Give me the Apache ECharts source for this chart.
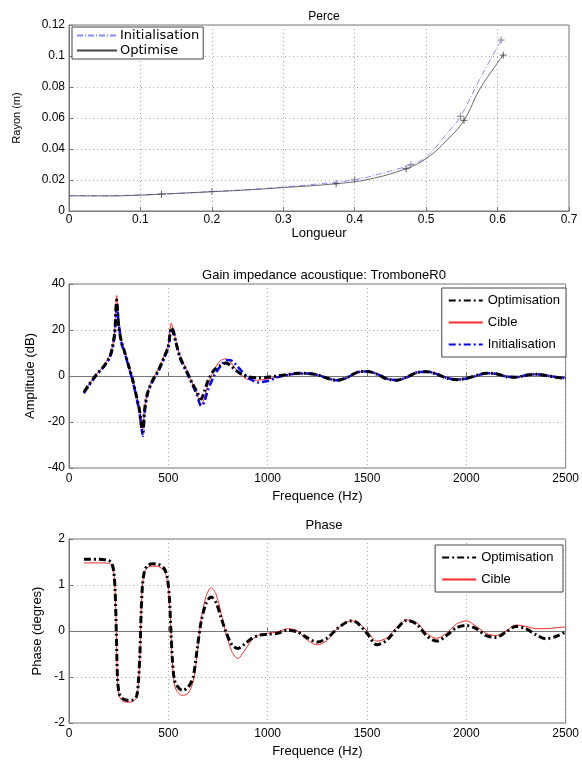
<!DOCTYPE html>
<html>
<head>
<meta charset="utf-8">
<script src="https://cdn.jsdelivr.net/npm/echarts@6/dist/echarts.min.js"></script>
<style>
html,body{margin:0;padding:0;background:#fff;}
#chart{width:582px;height:760px;}
</style>
</head>
<body>
<div id="chart"></div>
<script>
// Perce : rayon en fonction de la longueur
var perceInitX = [0, 0.05, 0.1, 0.15, 0.2, 0.25, 0.3, 0.35, 0.4, 0.44, 0.4786, 0.5, 0.529, 0.548, 0.5756, 0.605];
var perceInitY = [0.0100, 0.0099, 0.0104, 0.0113, 0.0126, 0.0138, 0.0155, 0.0175, 0.0202, 0.0245, 0.0299, 0.0348, 0.0500, 0.0611, 0.0855, 0.1103];
var perceOptX = [0, 0.05, 0.1, 0.1295, 0.2, 0.25, 0.3, 0.374, 0.42, 0.472, 0.5, 0.529, 0.553, 0.5756, 0.608];
var perceOptY = [0.0098, 0.0097, 0.0102, 0.0109, 0.0124, 0.0136, 0.0151, 0.0176, 0.0205, 0.0273, 0.0338, 0.0456, 0.0585, 0.0790, 0.1006];
// noeuds (+)
var nodesInitX = [0.2, 0.4, 0.4786, 0.548, 0.605];
var nodesInitY = [0.0126, 0.0202, 0.0299, 0.0611, 0.1103];
var nodesOptX = [0.1295, 0.374, 0.472, 0.553, 0.608];
var nodesOptY = [0.0109, 0.0176, 0.0273, 0.0585, 0.1006];

// Gain impedance (dB)
var freqAmp = [75, 100, 125, 150, 175, 200, 215, 230, 240, 250, 265, 280, 300, 320, 340, 355, 365, 372, 380, 395, 420, 450, 480, 500, 515, 525, 540, 560, 590, 620, 645, 665, 680, 700, 730, 760, 790, 810, 840, 870, 900, 950, 1000, 1050, 1100, 1150, 1200, 1250, 1300, 1350, 1400, 1450, 1500, 1550, 1600, 1650, 1700, 1750, 1800, 1850, 1900, 1950, 2000, 2050, 2100, 2150, 2200, 2250, 2300, 2350, 2400, 2450, 2500];
var ampOptim = [-7.0, -3.8, -0.8, 1.8, 4.2, 7.5, 11, 19, 33, 22, 14.5, 10.5, 4.5, -1.5, -9, -15, -22, -24, -15, -7.5, -2, 2.5, 8.5, 13, 21, 19, 14, 8, 2.5, -3, -7, -10, -7, -2, 2.5, 4.5, 5.6, 4.8, 2.5, 0.6, -0.3, -0.8, -0.5, 0, 0.6, 1.2, 1.1, 0.5, -1.0, -1.9, -0.6, 1.6, 2.0, 0.8, -1.3, -1.8, -0.5, 1.5, 1.9, 0.8, -0.9, -1.6, -1.0, 0.2, 1.2, 1.0, -0.3, -0.5, 0.3, 0.8, 0.2, -0.5, -1.1];
var ampCible = [-6.8, -3.6, -0.6, 2.0, 4.5, 8, 11.5, 20, 35, 22.5, 14.8, 10.8, 4.8, -1.2, -8.5, -14, -20, -23, -14.5, -7, -1.6, 3, 9, 14, 23, 20, 14.5, 8.5, 3, -3, -8, -12.5, -10, -3.5, 2.5, 6.5, 7.5, 6.2, 3, 0.3, -1.5, -1.8, -1.3, -0.5, 0.5, 1.0, 1.0, 0.6, -0.8, -1.9, -1.0, 1.4, 2.1, 1.0, -1.0, -1.8, -0.8, 1.4, 2.0, 1.0, -0.5, -1.5, -1.2, 0, 1.1, 1.0, 0, -0.4, 0.2, 0.6, 0.3, -0.3, -0.8];
var ampInit = [-7.5, -4.2, -1.2, 1.5, 4, 7.2, 10.5, 18, 31, 23, 14, 10, 4.2, -2, -9.5, -16, -23, -26, -17, -8, -2.5, 2, 8, 12.5, 20.5, 20, 14, 7.5, 2, -3.5, -8.5, -13, -11.5, -6, 0, 4, 6.8, 7.0, 5, 2, -0.5, -2.8, -2.2, -0.5, 0.4, 1.1, 1.1, 0.5, -1.0, -1.9, -0.7, 1.5, 2.0, 0.9, -1.2, -1.8, -0.6, 1.5, 1.9, 0.9, -0.8, -1.6, -1.1, 0.1, 1.2, 1.0, -0.2, -0.5, 0.3, 0.8, 0.2, -0.4, -1.0];

// Phase
var freqPh = [75, 100, 150, 200, 215, 225, 232, 238, 244, 252, 265, 280, 300, 320, 340, 350, 357, 363, 370, 380, 395, 420, 450, 480, 495, 505, 513, 520, 530, 545, 570, 600, 625, 645, 665, 690, 715, 740, 765, 790, 820, 850, 880, 920, 960, 1000, 1050, 1100, 1150, 1200, 1250, 1300, 1350, 1400, 1425, 1450, 1500, 1550, 1600, 1650, 1700, 1750, 1800, 1850, 1900, 1950, 2000, 2050, 2100, 2150, 2200, 2250, 2300, 2350, 2400, 2450, 2500];
var phOptim = [1.56, 1.56, 1.56, 1.53, 1.47, 1.3, 0.9, 0, -1.0, -1.35, -1.45, -1.49, -1.51, -1.50, -1.42, -1.05, -0.5, 0.38, 1.0, 1.3, 1.42, 1.46, 1.45, 1.35, 1.15, 0.74, 0, -0.6, -1.05, -1.2, -1.29, -1.22, -1.0, -0.4, 0.2, 0.6, 0.74, 0.62, 0.3, -0.02, -0.3, -0.38, -0.3, -0.16, -0.09, -0.07, -0.05, 0.02, -0.02, -0.15, -0.24, -0.15, 0.05, 0.2, 0.22, 0.18, -0.05, -0.3, -0.2, 0.05, 0.23, 0.15, -0.1, -0.22, -0.1, 0.07, 0.12, 0.05, -0.1, -0.14, -0.02, 0.1, 0.05, -0.08, -0.17, -0.12, -0.02];
var phCible = [1.48, 1.48, 1.48, 1.47, 1.42, 1.28, 0.9, 0, -1.05, -1.4, -1.5, -1.54, -1.55, -1.53, -1.45, -1.1, -0.5, 0.4, 1.0, 1.28, 1.38, 1.41, 1.40, 1.3, 1.1, 0.7, 0, -0.65, -1.15, -1.32, -1.40, -1.35, -1.1, -0.5, 0.25, 0.75, 0.94, 0.8, 0.4, -0.05, -0.45, -0.6, -0.45, -0.2, -0.08, -0.05, -0.02, 0.05, 0.0, -0.2, -0.3, -0.2, 0.05, 0.2, 0.22, 0.2, 0.0, -0.22, -0.15, 0.08, 0.24, 0.18, -0.05, -0.16, -0.05, 0.15, 0.22, 0.1, -0.05, -0.1, 0.0, 0.13, 0.1, 0.05, 0.05, 0.07, 0.09];

var ff = 'Liberation Sans';
var zip = function(xs, ys){ return xs.map(function(x, i){ return [x, ys[i]]; }); };
var plus = 'path://M0,5L10,5M5,0L5,10';
var plain = function(v){ return String(v); };

var grids = [
    {left: 69, right: 13, top: 25, height: 186},
    {left: 69, right: 13, top: 284, height: 184},
    {left: 69, right: 13, top: 539, height: 184}
];
grids.forEach(function(g){ g.show = true; g.borderColor = '#777'; g.borderWidth = 1; g.containLabel = false; });

function xAx(idx, min, max, interval, name, fs){
    return {
        type: 'value', gridIndex: idx, min: min, max: max, interval: interval,
        name: name, nameLocation: 'middle', nameGap: idx == 0 ? 11 : 22,
        nameTextStyle: {fontFamily: ff, fontSize: 13, color: '#000'},
        axisLine: {show: true, lineStyle: {color: '#777'}},
        axisTick: {inside: true, length: 4, lineStyle: {color: '#777'}},
        axisLabel: {fontFamily: ff, fontSize: fs, color: '#000', margin: idx == 0 ? 3 : 5, formatter: plain},
        splitLine: {show: true, lineStyle: {type: [1, 3], color: '#aaa'}}
    };
}
function yAx(idx, min, max, interval, name, fs, gap){
    return {
        type: 'value', gridIndex: idx, min: min, max: max, interval: interval,
        name: name, nameLocation: 'middle', nameGap: gap, nameRotate: 90,
        nameTextStyle: {fontFamily: ff, fontSize: idx == 0 ? 11 : 13, color: '#000'},
        axisLine: {show: true, lineStyle: {color: '#777'}},
        axisTick: {inside: true, length: 4, lineStyle: {color: '#777'}},
        axisLabel: {fontFamily: ff, fontSize: fs, color: '#000', margin: 4, formatter: plain},
        splitLine: {show: true, lineStyle: {type: [1, 3], color: '#aaa'}}
    };
}

var myChart = echarts.init(document.getElementById('chart'));
var option = {
    backgroundColor: '#fff',
    animation: false,
    title: [
        {text: 'Perce', left: 319, top: 6, textAlign: 'center', textStyle: {fontFamily: ff, fontSize: 12, fontWeight: 'normal', color: '#000'}},
        {text: 'Gain impedance acoustique: TromboneR0', left: 319, top: 264, textAlign: 'center', textStyle: {fontFamily: ff, fontSize: 13, fontWeight: 'normal', color: '#000'}},
        {text: 'Phase', left: 319, top: 514, textAlign: 'center', textStyle: {fontFamily: ff, fontSize: 13, fontWeight: 'normal', color: '#000'}}
    ],
    grid: grids,
    legend: [
        {
            data: ['Initialisation', 'Optimise'],
            orient: 'vertical', left: 72, top: 27,
            itemWidth: 40, itemHeight: 9, itemGap: 2, padding: [2, 4],
            itemStyle: {opacity: 0},
            borderColor: '#444', borderWidth: 1, backgroundColor: '#fff',
            textStyle: {fontFamily: 'DejaVu Sans', fontSize: 13, lineHeight: 11, color: '#000', padding: [0, 0, 0, -2]}
        },
        {
            data: ['Optimisation', 'Cible', 'Initialisation '],
            orient: 'vertical', right: 16, top: 288,
            itemWidth: 34, itemHeight: 10, itemGap: 9, padding: [6, 6],
            itemStyle: {opacity: 0},
            borderColor: '#444', borderWidth: 1, backgroundColor: '#fff',
            textStyle: {fontFamily: ff, fontSize: 13, color: '#000'}
        },
        {
            data: ['Optimisation ', 'Cible '],
            orient: 'vertical', right: 19, top: 545,
            itemWidth: 34, itemHeight: 10, itemGap: 9, padding: [6, 6],
            itemStyle: {opacity: 0},
            borderColor: '#444', borderWidth: 1, backgroundColor: '#fff',
            textStyle: {fontFamily: ff, fontSize: 13, color: '#000'}
        }
    ],
    xAxis: [
        xAx(0, 0, 0.7, 0.1, 'Longueur', 12),
        xAx(1, 0, 2500, 500, 'Frequence (Hz)', 12),
        xAx(2, 0, 2500, 500, 'Frequence (Hz)', 12)
    ],
    yAxis: [
        yAx(0, 0, 0.12, 0.02, 'Rayon (m)', 12, 47),
        yAx(1, -40, 40, 20, 'Amplitude (dB)', 12, 25),
        yAx(2, -2, 2, 1, 'Phase (degres)', 12, 20)
    ],
    series: [
        {name: 'Initialisation', type: 'line', xAxisIndex: 0, yAxisIndex: 0, data: zip(perceInitX, perceInitY), smooth: 0.4, symbol: 'none',
         lineStyle: {color: '#8a8aff', width: 1, type: [6, 2, 1, 2]}, itemStyle: {color: '#8a8aff'}},
        {name: 'Optimise', type: 'line', xAxisIndex: 0, yAxisIndex: 0, data: zip(perceOptX, perceOptY), smooth: 0.4, symbol: 'none',
         lineStyle: {color: '#444', width: 0.8}, itemStyle: {color: '#444'}},
        {type: 'scatter', xAxisIndex: 0, yAxisIndex: 0, data: zip(nodesInitX, nodesInitY), symbol: plus, symbolSize: 7,
         itemStyle: {color: 'none', borderColor: '#666', borderWidth: 1}, silent: true},
        {type: 'scatter', xAxisIndex: 0, yAxisIndex: 0, data: zip(nodesOptX, nodesOptY), symbol: plus, symbolSize: 7,
         itemStyle: {color: 'none', borderColor: '#333', borderWidth: 1}, silent: true},

        {name: 'Cible', type: 'line', xAxisIndex: 1, yAxisIndex: 1, data: zip(freqAmp, ampCible), smooth: 0.3, symbol: 'none', z: 3,
         lineStyle: {color: '#ff2a2a', width: 1}, itemStyle: {color: '#ff2a2a'}},
        {name: 'Initialisation ', type: 'line', xAxisIndex: 1, yAxisIndex: 1, data: zip(freqAmp, ampInit), smooth: 0.3, symbol: 'none', z: 4,
         lineStyle: {color: '#0000ff', width: 2.5, type: [7, 3, 2, 3]}, itemStyle: {color: '#0000ff'}},
        {name: 'Optimisation', type: 'line', xAxisIndex: 1, yAxisIndex: 1, data: zip(freqAmp, ampOptim), smooth: 0.3, symbol: 'none', z: 5,
         lineStyle: {color: '#000', width: 3, type: [7, 3, 2, 3]}, itemStyle: {color: '#000'}},

        {name: 'Cible ', type: 'line', xAxisIndex: 2, yAxisIndex: 2, data: zip(freqPh, phCible), smooth: 0.3, symbol: 'none', z: 3,
         lineStyle: {color: '#ff2a2a', width: 1}, itemStyle: {color: '#ff2a2a'}},
        {name: 'Optimisation ', type: 'line', xAxisIndex: 2, yAxisIndex: 2, data: zip(freqPh, phOptim), smooth: 0.3, symbol: 'none', z: 5,
         lineStyle: {color: '#000', width: 3, type: [7, 3, 2, 3]}, itemStyle: {color: '#000'}}
    ]
};
myChart.setOption(option);
</script>
</body>
</html>
